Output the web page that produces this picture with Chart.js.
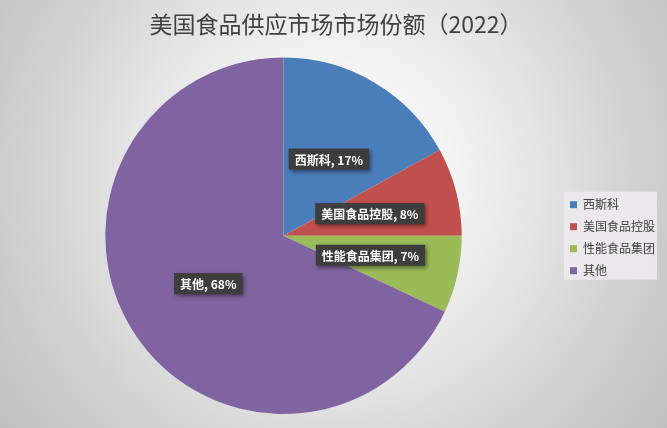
<!DOCTYPE html>
<html>
<head>
<meta charset="utf-8">
<script src="https://cdn.jsdelivr.net/npm/chart.js@4"></script>
<style>
  html, body { margin: 0; padding: 0; }
  body {
    width: 667px; height: 428px; overflow: hidden;
    background: radial-gradient(circle at 50% 42%, #ffffff 0%, #f6f6f6 25%, #e4e4e4 50%, #d2d2d2 72%, #c0c0c0 100%);
  }
  #wrap { position: relative; width: 667px; height: 428px; }
</style>
</head>
<body>
<div id="wrap"><canvas id="chart"></canvas></div>
<script>
const TITLE = '美国食品供应市场市场份额（2022）';
const categories = ['西斯科', '美国食品控股', '性能食品集团', '其他'];
const shares = [17, 8, 7, 68];
const colors = ['#4a7ebb', '#c0504d', '#9bbb59', '#8064a2'];

const FONT = '"Noto Sans CJK SC", "Noto Sans", sans-serif';

// grey box behind the legend
const legendBg = {
  id: 'legendBg',
  beforeDraw(chart) {
    const boxes = chart.legend && chart.legend.legendHitBoxes;
    if (!boxes || !boxes.length) return;
    const ctx = chart.ctx;
    const top = Math.min(...boxes.map(b => b.top));
    const bottom = Math.max(...boxes.map(b => b.top + b.height));
    const left = Math.min(...boxes.map(b => b.left));
    ctx.save();
    ctx.fillStyle = 'rgba(236,234,236,0.9)';
    ctx.fillRect(left - 6, top - 7, 93, bottom - top + 10);
    ctx.restore();
  }
};

// dark boxes with "name, xx%" in the middle of each slice
const sliceLabels = {
  id: 'sliceLabels',
  afterDatasetsDraw(chart) {
    const ctx = chart.ctx;
    const meta = chart.getDatasetMeta(0);
    ctx.save();
    ctx.font = 'bold 12px ' + FONT;
    ctx.textBaseline = 'middle';
    ctx.textAlign = 'center';
    meta.data.forEach((arc, i) => {
      const mid = (arc.startAngle + arc.endAngle) / 2;
      const r = arc.outerRadius * 0.5;
      const x = arc.x + Math.cos(mid) * r;
      const y = arc.y + Math.sin(mid) * r;
      const text = categories[i] + ', ' + shares[i] + '%';
      const w = ctx.measureText(text).width + 12;
      const h = 21;
      ctx.shadowColor = 'rgba(0,0,0,0.45)';
      ctx.shadowBlur = 4;
      ctx.shadowOffsetX = 2;
      ctx.shadowOffsetY = 2;
      ctx.fillStyle = '#3d3d3d';
      ctx.fillRect(x - w / 2, y - h / 2, w, h);
      ctx.shadowColor = 'transparent';
      ctx.fillStyle = '#ffffff';
      ctx.fillText(text, x, y + 1);
    });
    ctx.restore();
  }
};

new Chart(document.getElementById('chart'), {
  type: 'pie',
  data: {
    labels: categories,
    datasets: [{
      data: shares,
      backgroundColor: colors,
      borderWidth: 0
    }]
  },
  options: {
    responsive: true,
    maintainAspectRatio: false,
    animation: false,
    layout: { padding: { left: 7, right: 2, top: 0, bottom: 14 } },
    plugins: {
      title: {
        display: true,
        text: TITLE,
        color: '#404040',
        font: { family: FONT, size: 23, weight: 'normal' },
        padding: { top: 10, bottom: 20 }
      },
      legend: {
        position: 'right',
        title: {
          display: true,
          text: ' ',
          font: { size: 12 },
          padding: { top: 0, bottom: 47 }
        },
        labels: {
          color: '#404040',
          font: { family: FONT, size: 12 },
          boxWidth: 7,
          boxHeight: 7,
          padding: 10
        }
      },
      tooltip: { enabled: false }
    }
  },
  plugins: [legendBg, sliceLabels]
});
</script>
</body>
</html>
